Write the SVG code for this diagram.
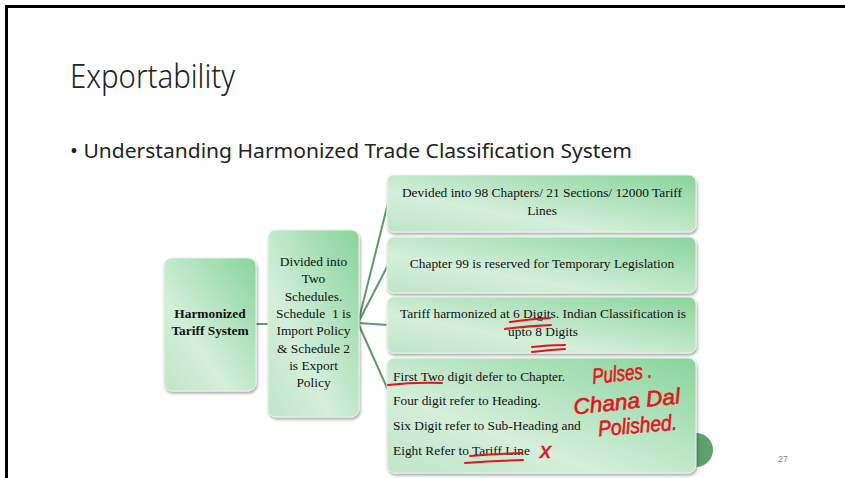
<svg xmlns="http://www.w3.org/2000/svg" width="845" height="478" viewBox="0 0 845 478">
<defs>
<linearGradient id="g" x1="0" y1="1" x2="1" y2="0">
<stop offset="0" stop-color="#bfe5c7"/>
<stop offset="0.35" stop-color="#d4efda"/>
<stop offset="1" stop-color="#88d49b"/>
</linearGradient>
<filter id="sh" x="-10%" y="-10%" width="130%" height="130%">
<feDropShadow dx="1" dy="2" stdDeviation="1.5" flood-color="#000" flood-opacity="0.35"/>
</filter>
<style>
.box{fill:url(#g);stroke:#e4f4e7;stroke-width:1;filter:url(#sh)}
.t{font-family:"Liberation Serif","Times New Roman",serif;font-size:13.4px;fill:#111}
.c{text-anchor:middle}
.b{font-weight:bold}
.con{stroke:#5f9a6c;stroke-width:2;fill:none}
.red{stroke:#e3141e;stroke-width:2;fill:none;stroke-linecap:round}
.hw{font-family:"Liberation Sans",Arial,sans-serif;font-style:italic;font-size:22px;fill:#e3141e;stroke:#e3141e;stroke-width:0.6}
</style>
</defs>
<rect x="0" y="0" width="845" height="478" fill="#fff"/>
<path d="M6.5 478 V6.5 H845" fill="none" stroke="#000" stroke-width="3"/>
<text x="70" y="88" font-family="Noto Sans, sans-serif" font-size="33" font-weight="300" fill="#222" textLength="165" lengthAdjust="spacingAndGlyphs">Exportability</text>
<text x="70" y="158" font-family="Noto Sans, sans-serif" font-size="20" fill="#222" textLength="562" lengthAdjust="spacingAndGlyphs">• Understanding Harmonized Trade Classification System</text>
<text x="783" y="462" font-family="Liberation Sans, Arial, sans-serif" font-size="9" fill="#8a8a8a" text-anchor="middle">27</text>
<circle cx="696" cy="450" r="17" fill="#60a06d"/>
<g id="connectors">
<line class="con" x1="256" y1="324" x2="268" y2="324"/>
<line class="con" x1="358" y1="323" x2="388" y2="203"/>
<line class="con" x1="358" y1="323" x2="388" y2="265"/>
<line class="con" x1="358" y1="323" x2="388" y2="325"/>
<line class="con" x1="358" y1="323" x2="388" y2="390"/>
</g>
<g id="node-hts">
<rect class="box" x="164" y="258" width="92" height="133" rx="8"/>
<text class="t c b" x="210" y="318">Harmonized</text>
<text class="t c b" x="210" y="335">Tariff System</text>
</g>
<g id="node-schedules">
<rect class="box" x="268" y="230" width="91" height="187" rx="8"/>
<text class="t c" x="313.5" y="266">Divided into</text>
<text class="t c" x="313.5" y="283.3">Two</text>
<text class="t c" x="313.5" y="300.6">Schedules.</text>
<text class="t c" x="313.5" y="318" xml:space="preserve">Schedule  1 is</text>
<text class="t c" x="313.5" y="335.3">Import Policy</text>
<text class="t c" x="313.5" y="352.6">&amp; Schedule 2</text>
<text class="t c" x="313.5" y="370">is Export</text>
<text class="t c" x="313.5" y="387.3">Policy</text>
</g>
<g id="node-chapters">
<rect class="box" x="387" y="175" width="309" height="57" rx="7"/>
<text class="t c" x="542" y="197">Devided into 98 Chapters/ 21 Sections/ 12000 Tariff</text>
<text class="t c" x="542" y="215">Lines</text>
</g>
<g id="node-ch99">
<rect class="box" x="387" y="237" width="309" height="56" rx="7"/>
<text class="t c" x="542" y="268">Chapter 99 is reserved for Temporary Legislation</text>
</g>
<g id="node-digits">
<rect class="box" x="387" y="297" width="309" height="56" rx="7"/>
<text class="t c" x="543" y="318">Tariff harmonized at 6 Digits. Indian Classification is</text>
<text class="t c" x="543" y="336">upto 8 Digits</text>
</g>
<g id="node-levels">
<rect class="box" x="387" y="358" width="309" height="115" rx="8"/>
<text class="t" x="393" y="381">First Two digit defer to Chapter.</text>
<text class="t" x="393" y="405">Four digit refer to Heading.</text>
<text class="t" x="393" y="430">Six Digit refer to Sub-Heading and</text>
<text class="t" x="393" y="455">Eight Refer to Tariff Line</text>
</g>
<g id="annotations">
<path class="red" d="M388 385 Q415 382 442 383"/>
<path class="red" d="M510 322 Q530 319 550 318"/>
<path class="red" d="M505 329 Q528 326 551 325"/>
<path class="red" d="M532 347 Q548 345 565 345"/>
<path class="red" d="M532 352 Q548 350 565 349"/>
<path class="red" d="M470 456 Q496 454 522 453"/>
<path class="red" d="M465 463 Q494 461 523 460"/>
<text class="hw" x="592" y="381" textLength="60" lengthAdjust="spacingAndGlyphs" transform="rotate(-6 620 372)">Pulses .</text>
<text class="hw" x="573" y="409" textLength="107" lengthAdjust="spacingAndGlyphs" transform="rotate(-6 626 400)">Chana Dal</text>
<text class="hw" x="598" y="433" textLength="79" lengthAdjust="spacingAndGlyphs" transform="rotate(-5 637 425)">Polished.</text>
<text class="hw" x="540" y="458" font-size="14">x</text>
</g>
</svg>
